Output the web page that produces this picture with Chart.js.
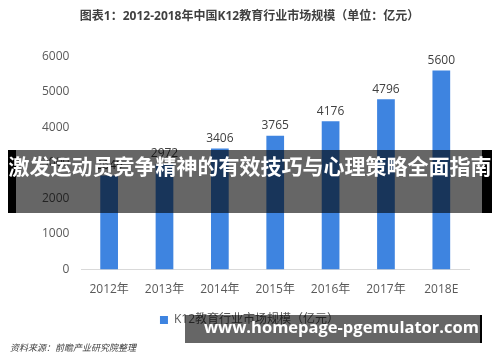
<!DOCTYPE html>
<html>
<head>
<meta charset="utf-8">
<script src="https://cdn.jsdelivr.net/npm/chart.js@4/dist/chart.umd.min.js"></script>
<style>
  html, body { margin: 0; padding: 0; background: #fff; }
  #wrap { position: relative; width: 500px; height: 362px; overflow: hidden; }
  #chart { position: absolute; left: 0; top: 0; }
  .src { position: absolute; left: 10px; top: 341px; font: italic 9px "Noto Sans CJK SC", sans-serif; color: #404040; }
  .band { position: absolute; left: 8px; top: 150px; width: 484px; height: 63px; box-sizing: border-box;
          background: rgba(0,0,0,0.6); border-left: 8px solid #000; border-right: 10px solid #000; }
  .band span { position: absolute; left: -8px; width: 484px; top: 0; line-height: 63px; text-align: center;
          font: bold 21px "Noto Sans CJK SC", sans-serif; color: #fff; white-space: nowrap; }
  .foot { position: absolute; left: 185px; top: 315px; width: 297px; height: 28px; box-sizing: border-box;
          background: rgba(0,0,0,0.6); border-right: 2px solid #000; overflow: hidden; }
  .foot span { position: absolute; left: 19px; top: 0; line-height: 28px;
          font: bold 16.5px "Open Sans", sans-serif; color: #fff; white-space: nowrap; }
</style>
</head>
<body>
<div id="wrap">
  <canvas id="chart" width="500" height="362"></canvas>
  <div class="src">资料来源：前瞻产业研究院整理</div>
  <div class="band"><span>激发运动员竞争精神的有效技巧与心理策略全面指南</span></div>
  <div class="foot"><span>www.homepage-pgemulator.com</span></div>
</div>
<script>
// データ
const years = ['2012年', '2013年', '2014年', '2015年', '2016年', '2017年', '2018E'];
const marketSize = [2649, 2972, 3406, 3765, 4176, 4796, 5600];
const yTicks = [0, 1000, 2000, 3000, 4000, 5000, 6000];
const seriesName = 'K12教育行业市场规模（亿元）';
const chartTitle = '图表1：2012-2018年中国K12教育行业市场规模（单位：亿元）';

const FONT = '"Open Sans", "Noto Sans CJK SC", sans-serif';

// 棒の上に値を描く
const valueLabels = {
    id: 'valueLabels',
    afterDatasetsDraw(chart) {
        const c = chart.ctx;
        const meta = chart.getDatasetMeta(0);
        c.save();
        c.font = '12px ' + FONT;
        c.fillStyle = '#404040';
        c.textAlign = 'center';
        c.textBaseline = 'bottom';
        meta.data.forEach((bar, i) => {
            c.fillText(String(marketSize[i]), bar.x, bar.y - 4);
        });
        c.restore();
    }
};

const ctx = document.getElementById('chart').getContext('2d');
new Chart(ctx, {
    type: 'bar',
    data: {
        labels: years,
        datasets: [{
            label: seriesName,
            data: marketSize,
            backgroundColor: '#3E84E0',
            barPercentage: 0.32,
            categoryPercentage: 1.0,
        }]
    },
    options: {
        responsive: false,
        animation: false,
        layout: { padding: { left: 30, right: 31, top: 0, bottom: 26 } },
        scales: {
            x: {
                grid: { display: false, drawTicks: false },
                border: { display: true, color: '#D9D9D9', width: 1 },
                ticks: { color: '#595959', font: { size: 12, family: FONT }, padding: 13 }
            },
            y: {
                min: 0,
                max: 6000,
                afterBuildTicks(axis) { axis.ticks = yTicks.map(v => ({ value: v })); },
                grid: { display: false, drawTicks: false },
                border: { display: false },
                ticks: {
                    color: '#595959',
                    font: { size: 12, family: FONT },
                    padding: 12,
                    callback: v => String(v)
                }
            }
        },
        plugins: {
            title: {
                display: true,
                text: chartTitle,
                color: '#404040',
                font: { size: 12, weight: 'bold', family: FONT },
                padding: { top: 9, bottom: 33 }
            },
            legend: {
                position: 'bottom',
                labels: {
                    color: '#595959',
                    font: { size: 12, family: FONT },
                    boxWidth: 8,
                    boxHeight: 8,
                    padding: 4
                }
            },
            tooltip: { enabled: false }
        }
    },
    plugins: [valueLabels]
});
</script>
</body>
</html>
